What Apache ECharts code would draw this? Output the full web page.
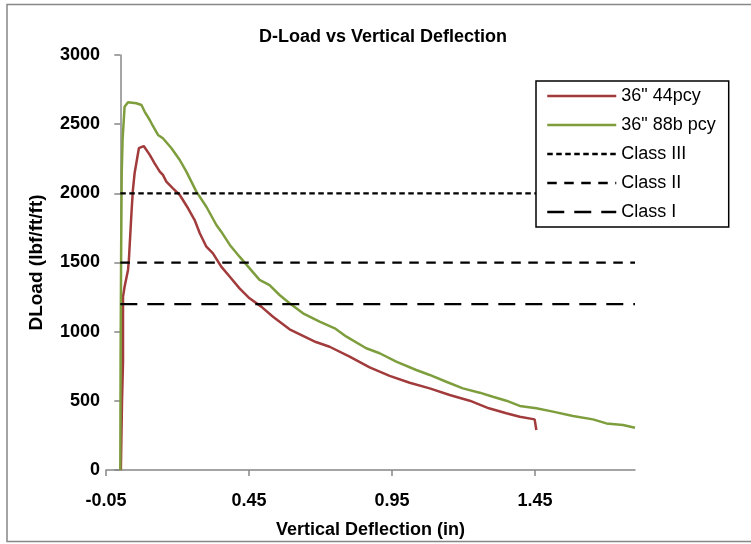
<!DOCTYPE html>
<html>
<head>
<meta charset="utf-8">
<script src="https://cdn.jsdelivr.net/npm/echarts@6/dist/echarts.min.js"></script>
<style>
html,body{margin:0;padding:0;background:#fff;}
#c{width:751px;height:544px;}
</style>
</head>
<body>
<div id="c"></div>
<script>
// ---- data ----
const seriesNames = ['36" 44pcy', '36" 88b pcy', 'Class III', 'Class II', 'Class I'];

const red44X = [0.002, 0.006, 0.0095, 0.0095, 0.015, 0.027, 0.030, 0.039, 0.044, 0.050, 0.065, 0.082, 0.103, 0.120, 0.138, 0.149, 0.161, 0.184, 0.208, 0.237, 0.260, 0.278, 0.301, 0.324, 0.353, 0.383, 0.417, 0.452, 0.493, 0.534, 0.592, 0.684, 0.732, 0.802, 0.872, 0.942, 1.012, 1.082, 1.152, 1.222, 1.289, 1.350, 1.397, 1.449, 1.455, 1.455];
const red44Y = [0, 500, 783, 1253, 1325, 1446, 1518, 1856, 2024, 2145, 2326, 2342, 2278, 2217, 2157, 2133, 2085, 2036, 1988, 1892, 1807, 1711, 1614, 1566, 1470, 1397, 1313, 1241, 1181, 1108, 1017, 925, 891, 819, 742, 680, 631, 590, 542, 501, 446, 410, 385, 366, 360, 289];

const green88X = [0.000, 0.001, 0.003, 0.005, 0.008, 0.015, 0.027, 0.056, 0.074, 0.085, 0.103, 0.114, 0.132, 0.149, 0.179, 0.208, 0.231, 0.266, 0.301, 0.336, 0.353, 0.383, 0.417, 0.447, 0.487, 0.522, 0.557, 0.592, 0.639, 0.697, 0.750, 0.791, 0.860, 0.907, 0.965, 1.035, 1.082, 1.140, 1.198, 1.257, 1.303, 1.350, 1.397, 1.455, 1.513, 1.583, 1.653, 1.700, 1.758, 1.800];
const green88Y = [0, 800, 1600, 2150, 2390, 2626, 2658, 2651, 2639, 2591, 2530, 2487, 2422, 2398, 2326, 2241, 2157, 2012, 1903, 1771, 1723, 1627, 1542, 1470, 1374, 1337, 1265, 1205, 1133, 1072, 1024, 964, 880, 844, 783, 723, 687, 638, 590, 559, 530, 501, 463, 446, 422, 390, 366, 337, 325, 305];

const classX = [0, 1.8];
const class3Level = 2000;
const class2Level = 1500;
const class1Level = 1200;

const xTicks = [-0.05, 0.45, 0.95, 1.45];

// ---- build ----
const zip = (xs, ys) => xs.map((x, i) => [x, ys[i]]);
const flat = (xs, v) => xs.map(x => [x, v]);
const FONT = 'Liberation Sans, Arial, sans-serif';
const AXIS_GRAY = '#878787';

const chart = echarts.init(document.getElementById('c'), null, {renderer: 'canvas'});
chart.setOption({
  animation: false,
  backgroundColor: '#fff',
  graphic: [{
    type: 'rect', silent: true, z: -10,
    shape: {x: 7, y: 4.5, width: 760, height: 537},
    style: {fill: 'none', stroke: AXIS_GRAY, lineWidth: 1.5}
  }],
  title: {
    text: 'D-Load vs Vertical Deflection',
    left: 259, top: 28, padding: 0,
    textStyle: {fontFamily: FONT, fontSize: 18, fontWeight: 'bold', color: '#000'}
  },
  grid: {left: 106, right: 116, top: 55, bottom: 74, containLabel: false},
  legend: {
    orient: 'vertical',
    left: 536, top: 81,
    padding: [6, 13, 6, 10],
    itemWidth: 69, itemHeight: 12, itemGap: 11,
    borderColor: '#000', borderWidth: 1.5,
    backgroundColor: '#fff',
    itemStyle: {opacity: 0},
    lineStyle: {width: 2.5},
    data: seriesNames,
    textStyle: {fontFamily: FONT, fontSize: 18, color: '#000'}
  },
  xAxis: {
    type: 'value', min: -0.05, max: 1.8, interval: 0.5,
    name: 'Vertical Deflection (in)', nameLocation: 'middle', nameGap: 51,
    nameTextStyle: {fontFamily: FONT, fontSize: 18, fontWeight: 'bold', color: '#000'},
    axisLine: {show: true, onZero: false, lineStyle: {color: AXIS_GRAY, width: 1.5}},
    axisTick: {show: true, inside: false, length: 6, customValues: xTicks, lineStyle: {color: AXIS_GRAY, width: 1.5}},
    axisLabel: {customValues: xTicks, margin: 22, fontFamily: FONT, fontSize: 18, fontWeight: 'bold', color: '#000',
      formatter: v => v.toFixed(2)},
    splitLine: {show: false}
  },
  yAxis: {
    type: 'value', min: 0, max: 3000, interval: 500,
    name: 'DLoad (lbf/ft/ft)', nameLocation: 'middle', nameGap: 60, nameRotate: 90,
    nameTextStyle: {fontFamily: FONT, fontSize: 19, fontWeight: 'bold', color: '#000'},
    axisLine: {show: true, onZero: true, lineStyle: {color: AXIS_GRAY, width: 1.5}},
    axisTick: {show: true, inside: false, length: 6, lineStyle: {color: AXIS_GRAY, width: 1.5}},
    axisLabel: {margin: 6, fontFamily: FONT, fontSize: 18, fontWeight: 'bold', color: '#000',
      formatter: v => String(v)},
    splitLine: {show: false}
  },
  series: [
    {name: seriesNames[0], type: 'line', data: zip(red44X, red44Y), symbol: 'none', showSymbol: false,
      lineStyle: {color: '#A23B3B', width: 2.5}, itemStyle: {color: '#A23B3B'}},
    {name: seriesNames[1], type: 'line', data: zip(green88X, green88Y), symbol: 'none', showSymbol: false,
      lineStyle: {color: '#7E9E3E', width: 2.5}, itemStyle: {color: '#7E9E3E'}},
    {name: seriesNames[2], type: 'line', data: flat(classX, class3Level), symbol: 'none', showSymbol: false,
      lineStyle: {color: '#000', width: 2.25, type: [5.5, 3.5]}, itemStyle: {color: '#000'}},
    {name: seriesNames[3], type: 'line', data: flat(classX, class2Level), symbol: 'none', showSymbol: false,
      lineStyle: {color: '#000', width: 2.25, type: [9.5, 7.5]}, itemStyle: {color: '#000'}},
    {name: seriesNames[4], type: 'line', data: flat(classX, class1Level), symbol: 'none', showSymbol: false,
      lineStyle: {color: '#000', width: 2.25, type: [17, 10]}, itemStyle: {color: '#000'}}
  ]
});
</script>
</body>
</html>
